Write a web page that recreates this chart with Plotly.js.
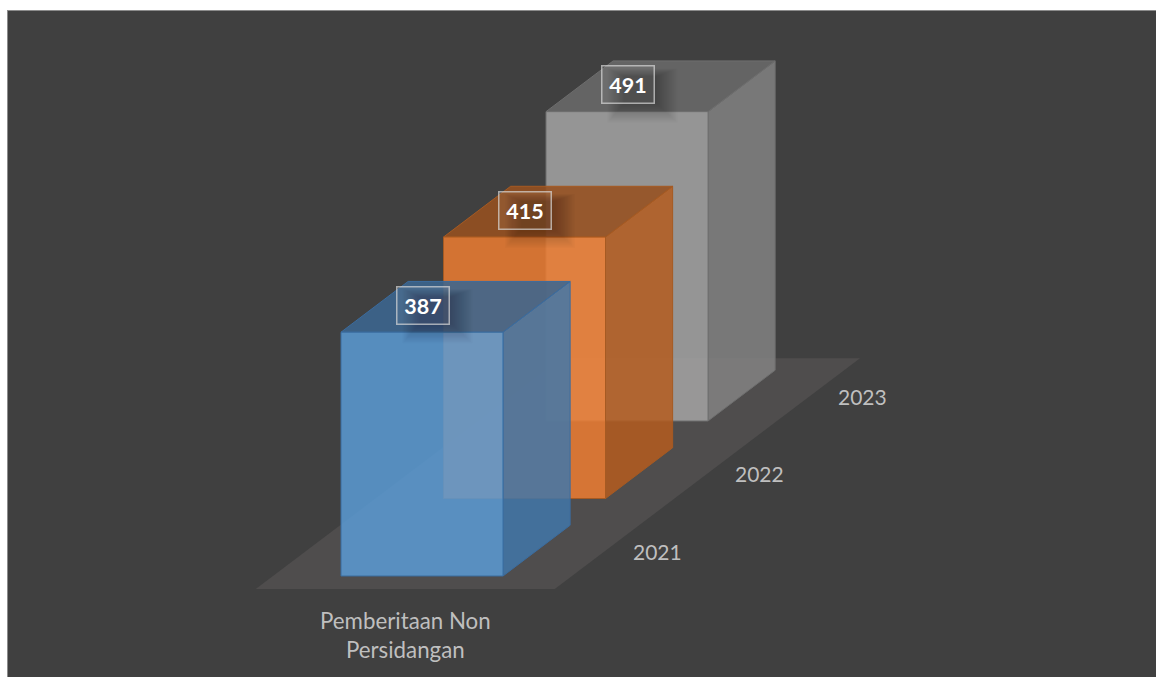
<!DOCTYPE html>
<html><head><meta charset="utf-8">
<script src="https://cdn.plot.ly/plotly-3.0.1.min.js"></script>
<style>html,body{margin:0;padding:0;background:#fff;overflow:hidden}#c{width:1156px;height:677px}</style>
</head><body><div id="c"></div>
<script>
// ---- data ----
const years = ['2021', '2022', '2023'];
const values = [387, 415, 491];
const categoryLines = ['Pemberitaan Non', 'Persidangan'];
const frontColors = ['rgba(91,155,213,0.85)', 'rgba(237,125,49,0.85)', 'rgba(165,165,165,0.85)'];
const sideColors  = ['rgba(65,119,169,0.85)', 'rgba(180,92,31,0.85)', 'rgba(130,130,130,0.85)'];
const topColors   = ['rgba(59,101,144,0.88)', 'rgba(150,80,31,0.88)', 'rgba(105,105,105,0.88)'];
const edgeColors  = ['#3b6c9f', '#a65a22', '#6e6e6e'];

// ---- oblique projection (value axis is the real y axis) ----
const W = 1156, H = 677, L = 8, T = 11;
const pxPerValue = 0.63, baseY = 576, startX = 341;
const stepX = 102.5, stepY = 77.5 / pxPerValue;   // one series further back
const barW = 162, barDepth = 0.655;
const P = (off, d, v) => [startX + off + d * stepX, v + d * stepY];

function face(pts, fill, line) {
  const pp = pts.concat([pts[0]]);
  return {x: pp.map(p => p[0]), y: pp.map(p => p[1]), mode: 'lines', fill: 'toself',
    fillcolor: fill, line: {color: line, width: line === 'rgba(0,0,0,0)' ? 0 : 1},
    hoverinfo: 'skip', showlegend: false, type: 'scatter'};
}

const traces = [];
// floor
const fd0 = -0.168, fd1 = 2.81, fo0 = -68, fo1 = 231;
traces.push(face([P(fo0, fd0, 0), P(fo1, fd0, 0), P(fo1, fd1, 0), P(fo0, fd1, 0)], '#4f4d4d', 'rgba(0,0,0,0)'));
// bars, back to front
for (let i = values.length - 1; i >= 0; i--) {
  const v = values[i], d0 = i, d1 = i + barDepth;
  traces.push(face([P(barW, d0, 0), P(barW, d1, 0), P(barW, d1, v), P(barW, d0, v)], sideColors[i], edgeColors[i]));
  traces.push(face([P(0, d0, v), P(barW, d0, v), P(barW, d1, v), P(0, d1, v)], topColors[i], edgeColors[i]));
  traces.push(face([P(0, d0, 0), P(barW, d0, 0), P(barW, d0, v), P(0, d0, v)], frontColors[i], edgeColors[i]));
}

const shapes = [], annotations = [];
const u = px => px / pxPerValue;
const lift = u(27);
values.forEach((v, i) => {
  const [cx, cy] = P(barW / 2 + 0.5, i, v + lift);
  // soft shadow behind the data label
  for (let k = 0; k < 16; k++) {
    shapes.push({type: 'rect', xref: 'x', yref: 'y', layer: 'above', line: {width: 0},
      fillcolor: 'rgba(0,0,0,0.014)',
      x0: cx - 20 + k * 1.1, x1: cx + 50 - k * 1.4,
      y0: cy - u(38 - k * 1.3), y1: cy + u(16 - k * 0.5)});
  }
  annotations.push({x: cx, y: cy, xref: 'x', yref: 'y', showarrow: false, text: '<b>' + v + '</b>',
    font: {family: 'Lato, Carlito, sans-serif', size: 21.5, color: '#ffffff'},
    width: 51, height: 36, borderpad: 0, borderwidth: 1.5, bordercolor: 'rgba(217,217,217,0.7)',
    bgcolor: 'rgba(255,255,255,0.06)', align: 'center', valign: 'middle'});
  // depth axis tick label
  const [tx, ty] = P(316, i, u(25));
  annotations.push({x: tx, y: ty, xref: 'x', yref: 'y', showarrow: false, text: years[i],
    font: {family: 'Lato, Carlito, sans-serif', size: 21, color: '#bfbfbf'}});
});
// category label
annotations.push({x: P(64, 0, 0)[0], y: u(baseY - 634.5), xref: 'x', yref: 'y', showarrow: false,
  text: categoryLines.join('<br>'), align: 'center',
  font: {family: 'Lato, Carlito, sans-serif', size: 22.3, color: '#bfbfbf'}});

const layout = {
  width: W, height: H, margin: {l: L, t: T, r: 0, b: 0, pad: 0},
  paper_bgcolor: '#ffffff', plot_bgcolor: '#404040', showlegend: false, hovermode: false,
  xaxis: {range: [L, W], visible: true, showgrid: false, zeroline: false, showticklabels: false, ticks: '',
    side: 'top', showline: true, linecolor: '#8c8c8c', linewidth: 1, fixedrange: true},
  yaxis: {range: [(baseY - H) / pxPerValue, (baseY - T) / pxPerValue], showgrid: false, zeroline: false,
    showticklabels: false, ticks: '', showline: true, linecolor: '#8c8c8c', linewidth: 1, fixedrange: true},
  shapes, annotations
};
Plotly.newPlot('c', traces, layout, {displayModeBar: false, staticPlot: true});
</script></body></html>
